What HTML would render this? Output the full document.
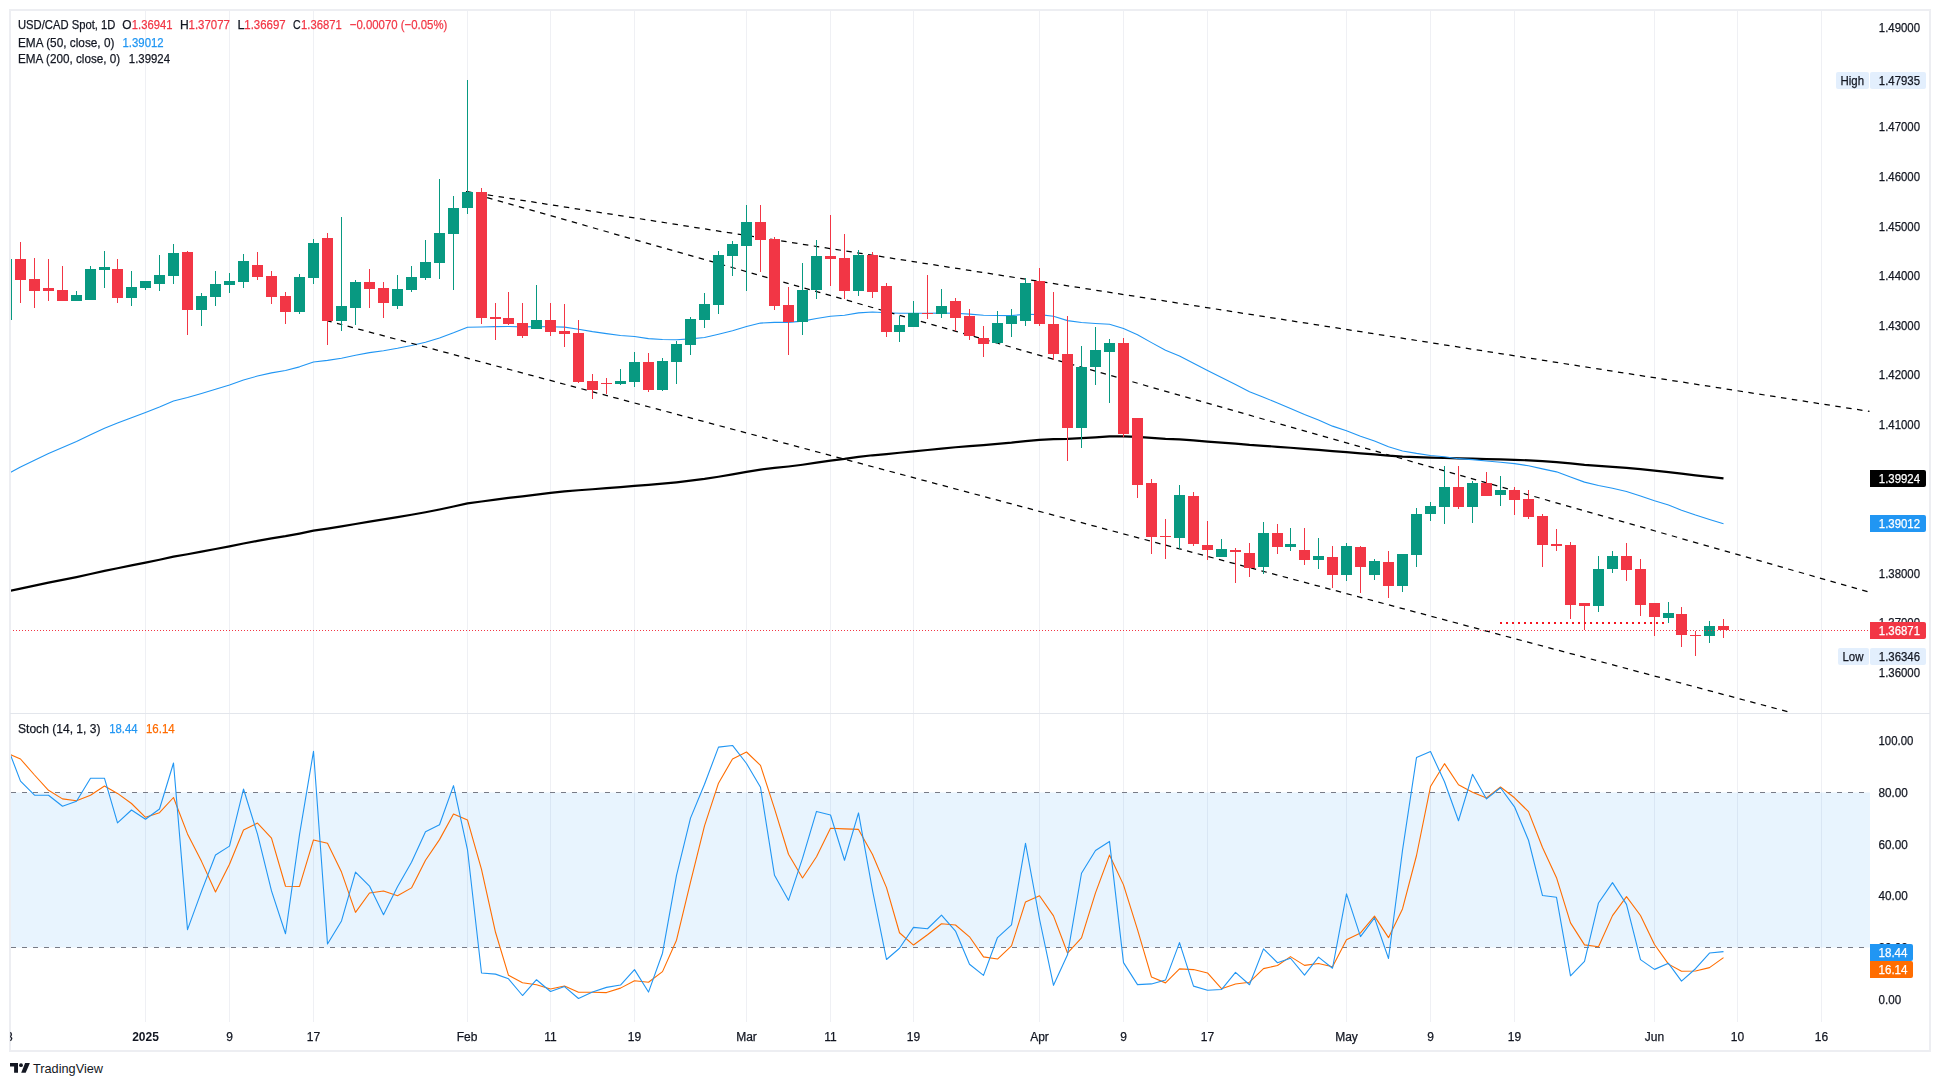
<!DOCTYPE html>
<html><head><meta charset="utf-8"><title>USD/CAD Chart</title>
<style>html,body{margin:0;padding:0;background:#fff;}svg{display:block;}</style></head>
<body><svg width="1940" height="1086" viewBox="0 0 1940 1086" shape-rendering="auto">
<rect width="1940" height="1086" fill="#fff"/>
<defs>
<clipPath id="cm"><rect x="11" y="11" width="1859" height="702"/></clipPath>
<clipPath id="cs"><rect x="11" y="714" width="1859" height="308"/></clipPath>
<clipPath id="ct"><rect x="10" y="1023" width="1860" height="27"/></clipPath>
</defs>
<rect x="10" y="10" width="1920" height="1041" fill="none" stroke="#edeef2" stroke-width="2"/>
<rect x="145" y="11" width="1" height="702" fill="#eff0f4"/>
<rect x="145" y="714" width="1" height="308" fill="#eff0f4"/>
<rect x="229" y="11" width="1" height="702" fill="#eff0f4"/>
<rect x="229" y="714" width="1" height="308" fill="#eff0f4"/>
<rect x="313" y="11" width="1" height="702" fill="#eff0f4"/>
<rect x="313" y="714" width="1" height="308" fill="#eff0f4"/>
<rect x="467" y="11" width="1" height="702" fill="#eff0f4"/>
<rect x="467" y="714" width="1" height="308" fill="#eff0f4"/>
<rect x="550" y="11" width="1" height="702" fill="#eff0f4"/>
<rect x="550" y="714" width="1" height="308" fill="#eff0f4"/>
<rect x="634" y="11" width="1" height="702" fill="#eff0f4"/>
<rect x="634" y="714" width="1" height="308" fill="#eff0f4"/>
<rect x="746" y="11" width="1" height="702" fill="#eff0f4"/>
<rect x="746" y="714" width="1" height="308" fill="#eff0f4"/>
<rect x="830" y="11" width="1" height="702" fill="#eff0f4"/>
<rect x="830" y="714" width="1" height="308" fill="#eff0f4"/>
<rect x="913" y="11" width="1" height="702" fill="#eff0f4"/>
<rect x="913" y="714" width="1" height="308" fill="#eff0f4"/>
<rect x="1039" y="11" width="1" height="702" fill="#eff0f4"/>
<rect x="1039" y="714" width="1" height="308" fill="#eff0f4"/>
<rect x="1123" y="11" width="1" height="702" fill="#eff0f4"/>
<rect x="1123" y="714" width="1" height="308" fill="#eff0f4"/>
<rect x="1207" y="11" width="1" height="702" fill="#eff0f4"/>
<rect x="1207" y="714" width="1" height="308" fill="#eff0f4"/>
<rect x="1346" y="11" width="1" height="702" fill="#eff0f4"/>
<rect x="1346" y="714" width="1" height="308" fill="#eff0f4"/>
<rect x="1430" y="11" width="1" height="702" fill="#eff0f4"/>
<rect x="1430" y="714" width="1" height="308" fill="#eff0f4"/>
<rect x="1514" y="11" width="1" height="702" fill="#eff0f4"/>
<rect x="1514" y="714" width="1" height="308" fill="#eff0f4"/>
<rect x="1654" y="11" width="1" height="702" fill="#eff0f4"/>
<rect x="1654" y="714" width="1" height="308" fill="#eff0f4"/>
<rect x="1737" y="11" width="1" height="702" fill="#eff0f4"/>
<rect x="1737" y="714" width="1" height="308" fill="#eff0f4"/>
<rect x="1821" y="11" width="1" height="702" fill="#eff0f4"/>
<rect x="1821" y="714" width="1" height="308" fill="#eff0f4"/>
<rect x="10" y="713" width="1920" height="1" fill="#e3e6ec"/>
<rect x="11" y="792.5" width="1859" height="155" fill="rgb(33,150,243)" fill-opacity="0.1"/>
<line x1="11" y1="792.5" x2="1870" y2="792.5" stroke="#787b86" stroke-width="1" stroke-dasharray="5 6"/>
<line x1="11" y1="947.5" x2="1870" y2="947.5" stroke="#787b86" stroke-width="1" stroke-dasharray="5 6"/>
<g clip-path="url(#cm)">
<polyline points="6.5,591.70 20.5,588.60 34.5,585.63 48.5,582.70 62.5,579.89 76.5,577.06 90.5,574.00 104.5,570.94 117.5,568.23 131.5,565.43 145.5,562.60 159.5,559.74 173.5,556.69 187.5,554.24 201.5,551.67 215.5,549.01 229.5,546.34 243.5,543.50 257.5,540.85 271.5,538.42 285.5,536.17 299.5,533.59 313.5,530.70 327.5,528.61 341.5,526.39 355.5,523.96 369.5,521.62 383.5,519.44 397.5,517.15 411.5,514.76 425.5,512.25 439.5,509.47 453.5,506.47 467.5,503.34 481.5,501.49 495.5,499.68 508.5,497.93 522.5,496.31 536.5,494.56 550.5,492.94 564.5,491.36 578.5,490.27 592.5,489.26 606.5,488.22 620.5,487.15 634.5,485.91 648.5,484.95 662.5,483.72 676.5,482.33 690.5,480.70 704.5,478.95 718.5,476.72 732.5,474.40 746.5,471.89 760.5,469.58 774.5,467.95 788.5,466.50 802.5,464.74 816.5,462.67 830.5,460.64 844.5,458.95 858.5,456.92 872.5,455.28 886.5,454.05 899.5,452.76 913.5,451.38 927.5,450.01 941.5,448.57 955.5,447.27 969.5,446.16 983.5,445.15 997.5,443.93 1011.5,442.66 1025.5,441.07 1039.5,439.90 1053.5,439.05 1067.5,438.94 1081.5,438.22 1095.5,437.35 1109.5,436.41 1123.5,436.38 1137.5,436.86 1151.5,437.86 1165.5,438.84 1179.5,439.40 1193.5,440.44 1207.5,441.53 1221.5,442.60 1235.5,443.69 1249.5,444.93 1263.5,445.80 1277.5,446.81 1290.5,447.77 1304.5,448.89 1318.5,449.96 1332.5,451.20 1346.5,452.14 1360.5,453.28 1374.5,454.35 1388.5,455.66 1402.5,456.64 1416.5,457.21 1430.5,457.69 1444.5,457.99 1458.5,458.47 1472.5,458.72 1486.5,459.09 1500.5,459.39 1514.5,459.79 1528.5,460.36 1542.5,461.20 1556.5,462.04 1570.5,463.46 1584.5,464.88 1598.5,465.91 1612.5,466.81 1626.5,467.84 1640.5,469.20 1654.5,470.67 1668.5,472.08 1681.5,473.70 1695.5,475.31 1709.5,476.81 1723.5,478.34" fill="none" stroke="#000" stroke-width="2.2" stroke-linejoin="round"/>
<polyline points="6.5,474.70 20.5,467.05 34.5,460.14 48.5,453.50 62.5,447.52 76.5,441.54 90.5,434.78 104.5,428.20 117.5,423.09 131.5,417.76 145.5,412.41 159.5,407.03 173.5,400.99 187.5,397.42 201.5,393.44 215.5,389.16 229.5,384.92 243.5,380.07 257.5,376.02 271.5,372.91 285.5,370.52 299.5,366.85 313.5,362.00 327.5,360.39 341.5,358.25 355.5,355.26 369.5,352.65 383.5,350.70 397.5,348.29 411.5,345.49 425.5,342.22 439.5,337.94 453.5,332.84 467.5,327.32 481.5,326.94 495.5,326.63 508.5,326.51 522.5,326.88 536.5,326.61 550.5,326.82 564.5,327.09 578.5,329.23 592.5,331.60 606.5,333.65 620.5,335.51 634.5,336.55 648.5,338.63 662.5,339.52 676.5,339.70 690.5,338.89 704.5,337.53 718.5,334.29 732.5,330.75 746.5,326.49 760.5,323.09 774.5,322.41 788.5,322.39 802.5,321.12 816.5,318.57 830.5,316.22 844.5,315.23 858.5,312.87 872.5,312.04 886.5,312.81 899.5,313.30 913.5,313.29 927.5,313.31 941.5,313.03 955.5,313.21 969.5,314.10 983.5,315.27 997.5,315.57 1011.5,315.59 1025.5,314.30 1039.5,314.67 1053.5,316.23 1067.5,320.61 1081.5,322.43 1095.5,323.51 1109.5,324.29 1123.5,328.58 1137.5,334.70 1151.5,342.62 1165.5,350.25 1179.5,355.93 1193.5,363.30 1207.5,370.61 1221.5,377.60 1235.5,384.46 1249.5,391.65 1263.5,397.19 1277.5,403.06 1290.5,408.58 1304.5,414.52 1318.5,420.06 1332.5,426.13 1346.5,430.83 1360.5,436.16 1374.5,441.05 1388.5,446.72 1402.5,450.93 1416.5,453.41 1430.5,455.47 1444.5,456.71 1458.5,458.67 1472.5,459.64 1486.5,461.05 1500.5,462.18 1514.5,463.66 1528.5,465.74 1542.5,468.84 1556.5,471.85 1570.5,477.06 1584.5,482.12 1598.5,485.52 1612.5,488.28 1626.5,491.48 1640.5,495.92 1654.5,500.67 1668.5,505.07 1681.5,510.15 1695.5,515.08 1709.5,519.43 1723.5,523.79" fill="none" stroke="#2196f3" stroke-width="1.1" stroke-linejoin="round"/>
<line x1="466" y1="191.50" x2="1869.5" y2="411.43" stroke="#000" stroke-width="1.25" stroke-dasharray="5.5 5.5" stroke-dashoffset="0"/>
<line x1="466" y1="191.50" x2="1869.5" y2="592.20" stroke="#000" stroke-width="1.25" stroke-dasharray="5.5 5.5" stroke-dashoffset="0"/>
<line x1="327.5" y1="320.80" x2="1789" y2="712.04" stroke="#000" stroke-width="1.25" stroke-dasharray="5.5 5.5" stroke-dashoffset="1.2"/>
<rect x="6" y="259" width="1" height="61" fill="#089981"/>
<rect x="1" y="259" width="11" height="61" fill="#089981"/>
<rect x="20" y="242" width="1" height="61" fill="#f23645"/>
<rect x="15" y="259" width="11" height="21" fill="#f23645"/>
<rect x="34" y="258" width="1" height="50" fill="#f23645"/>
<rect x="29" y="279" width="11" height="12" fill="#f23645"/>
<rect x="48" y="259" width="1" height="42" fill="#f23645"/>
<rect x="43" y="288" width="11" height="3" fill="#f23645"/>
<rect x="62" y="266" width="1" height="35" fill="#f23645"/>
<rect x="57" y="290" width="11" height="11" fill="#f23645"/>
<rect x="76" y="291" width="1" height="10" fill="#089981"/>
<rect x="71" y="295" width="11" height="6" fill="#089981"/>
<rect x="90" y="266" width="1" height="34" fill="#089981"/>
<rect x="85" y="269" width="11" height="31" fill="#089981"/>
<rect x="104" y="251" width="1" height="37" fill="#089981"/>
<rect x="99" y="267" width="11" height="3" fill="#089981"/>
<rect x="117" y="259" width="1" height="44" fill="#f23645"/>
<rect x="112" y="269" width="11" height="29" fill="#f23645"/>
<rect x="131" y="271" width="1" height="35" fill="#089981"/>
<rect x="126" y="287" width="11" height="11" fill="#089981"/>
<rect x="145" y="281" width="1" height="9" fill="#089981"/>
<rect x="140" y="281" width="11" height="7" fill="#089981"/>
<rect x="159" y="255" width="1" height="36" fill="#089981"/>
<rect x="154" y="275" width="11" height="9" fill="#089981"/>
<rect x="173" y="244" width="1" height="40" fill="#089981"/>
<rect x="168" y="253" width="11" height="23" fill="#089981"/>
<rect x="187" y="251" width="1" height="84" fill="#f23645"/>
<rect x="182" y="252" width="11" height="58" fill="#f23645"/>
<rect x="201" y="293" width="1" height="33" fill="#089981"/>
<rect x="196" y="296" width="11" height="14" fill="#089981"/>
<rect x="215" y="271" width="1" height="35" fill="#089981"/>
<rect x="210" y="284" width="11" height="13" fill="#089981"/>
<rect x="229" y="273" width="1" height="20" fill="#089981"/>
<rect x="224" y="281" width="11" height="4" fill="#089981"/>
<rect x="243" y="254" width="1" height="34" fill="#089981"/>
<rect x="238" y="261" width="11" height="21" fill="#089981"/>
<rect x="257" y="252" width="1" height="28" fill="#f23645"/>
<rect x="252" y="265" width="11" height="12" fill="#f23645"/>
<rect x="271" y="271" width="1" height="33" fill="#f23645"/>
<rect x="266" y="276" width="11" height="21" fill="#f23645"/>
<rect x="285" y="292" width="1" height="32" fill="#f23645"/>
<rect x="280" y="296" width="11" height="16" fill="#f23645"/>
<rect x="299" y="274" width="1" height="40" fill="#089981"/>
<rect x="294" y="277" width="11" height="35" fill="#089981"/>
<rect x="313" y="239" width="1" height="45" fill="#089981"/>
<rect x="308" y="243" width="11" height="35" fill="#089981"/>
<rect x="327" y="233" width="1" height="112" fill="#f23645"/>
<rect x="322" y="238" width="11" height="83" fill="#f23645"/>
<rect x="341" y="217" width="1" height="114" fill="#089981"/>
<rect x="336" y="306" width="11" height="15" fill="#089981"/>
<rect x="355" y="280" width="1" height="45" fill="#089981"/>
<rect x="350" y="282" width="11" height="26" fill="#089981"/>
<rect x="369" y="269" width="1" height="39" fill="#f23645"/>
<rect x="364" y="282" width="11" height="7" fill="#f23645"/>
<rect x="383" y="282" width="1" height="36" fill="#f23645"/>
<rect x="378" y="288" width="11" height="15" fill="#f23645"/>
<rect x="397" y="275" width="1" height="34" fill="#089981"/>
<rect x="392" y="289" width="11" height="17" fill="#089981"/>
<rect x="411" y="266" width="1" height="26" fill="#089981"/>
<rect x="406" y="277" width="11" height="13" fill="#089981"/>
<rect x="425" y="240" width="1" height="40" fill="#089981"/>
<rect x="420" y="262" width="11" height="16" fill="#089981"/>
<rect x="439" y="179" width="1" height="100" fill="#089981"/>
<rect x="434" y="233" width="11" height="30" fill="#089981"/>
<rect x="453" y="196" width="1" height="94" fill="#089981"/>
<rect x="448" y="208" width="11" height="26" fill="#089981"/>
<rect x="467" y="80" width="1" height="134" fill="#089981"/>
<rect x="462" y="192" width="11" height="16" fill="#089981"/>
<rect x="481" y="188" width="1" height="136" fill="#f23645"/>
<rect x="476" y="192" width="11" height="126" fill="#f23645"/>
<rect x="495" y="303" width="1" height="37" fill="#f23645"/>
<rect x="490" y="317" width="11" height="2" fill="#f23645"/>
<rect x="508" y="292" width="1" height="33" fill="#f23645"/>
<rect x="503" y="318" width="11" height="6" fill="#f23645"/>
<rect x="522" y="303" width="1" height="35" fill="#f23645"/>
<rect x="517" y="323" width="11" height="13" fill="#f23645"/>
<rect x="536" y="285" width="1" height="44" fill="#089981"/>
<rect x="531" y="320" width="11" height="9" fill="#089981"/>
<rect x="550" y="303" width="1" height="33" fill="#f23645"/>
<rect x="545" y="320" width="11" height="12" fill="#f23645"/>
<rect x="564" y="304" width="1" height="43" fill="#f23645"/>
<rect x="559" y="331" width="11" height="3" fill="#f23645"/>
<rect x="578" y="320" width="1" height="63" fill="#f23645"/>
<rect x="573" y="333" width="11" height="49" fill="#f23645"/>
<rect x="592" y="374" width="1" height="25" fill="#f23645"/>
<rect x="587" y="381" width="11" height="9" fill="#f23645"/>
<rect x="606" y="378" width="1" height="16" fill="#f23645"/>
<rect x="601" y="383" width="11" height="1" fill="#f23645"/>
<rect x="620" y="369" width="1" height="16" fill="#089981"/>
<rect x="615" y="381" width="11" height="3" fill="#089981"/>
<rect x="634" y="352" width="1" height="35" fill="#089981"/>
<rect x="629" y="362" width="11" height="20" fill="#089981"/>
<rect x="648" y="353" width="1" height="39" fill="#f23645"/>
<rect x="643" y="362" width="11" height="28" fill="#f23645"/>
<rect x="662" y="358" width="1" height="33" fill="#089981"/>
<rect x="657" y="361" width="11" height="29" fill="#089981"/>
<rect x="676" y="341" width="1" height="43" fill="#089981"/>
<rect x="671" y="344" width="11" height="18" fill="#089981"/>
<rect x="690" y="317" width="1" height="38" fill="#089981"/>
<rect x="685" y="319" width="11" height="26" fill="#089981"/>
<rect x="704" y="293" width="1" height="35" fill="#089981"/>
<rect x="699" y="304" width="11" height="16" fill="#089981"/>
<rect x="718" y="251" width="1" height="63" fill="#089981"/>
<rect x="713" y="255" width="11" height="50" fill="#089981"/>
<rect x="732" y="241" width="1" height="35" fill="#089981"/>
<rect x="727" y="244" width="11" height="12" fill="#089981"/>
<rect x="746" y="205" width="1" height="86" fill="#089981"/>
<rect x="741" y="222" width="11" height="24" fill="#089981"/>
<rect x="760" y="205" width="1" height="67" fill="#f23645"/>
<rect x="755" y="222" width="11" height="18" fill="#f23645"/>
<rect x="774" y="237" width="1" height="73" fill="#f23645"/>
<rect x="769" y="239" width="11" height="67" fill="#f23645"/>
<rect x="788" y="287" width="1" height="68" fill="#f23645"/>
<rect x="783" y="305" width="11" height="17" fill="#f23645"/>
<rect x="802" y="263" width="1" height="72" fill="#089981"/>
<rect x="797" y="290" width="11" height="32" fill="#089981"/>
<rect x="816" y="240" width="1" height="59" fill="#089981"/>
<rect x="811" y="256" width="11" height="34" fill="#089981"/>
<rect x="830" y="215" width="1" height="71" fill="#f23645"/>
<rect x="825" y="256" width="11" height="3" fill="#f23645"/>
<rect x="844" y="234" width="1" height="65" fill="#f23645"/>
<rect x="839" y="258" width="11" height="33" fill="#f23645"/>
<rect x="858" y="250" width="1" height="46" fill="#089981"/>
<rect x="853" y="255" width="11" height="36" fill="#089981"/>
<rect x="872" y="252" width="1" height="46" fill="#f23645"/>
<rect x="867" y="255" width="11" height="37" fill="#f23645"/>
<rect x="886" y="283" width="1" height="54" fill="#f23645"/>
<rect x="881" y="286" width="11" height="46" fill="#f23645"/>
<rect x="899" y="316" width="1" height="26" fill="#089981"/>
<rect x="894" y="325" width="11" height="7" fill="#089981"/>
<rect x="913" y="301" width="1" height="26" fill="#089981"/>
<rect x="908" y="313" width="11" height="14" fill="#089981"/>
<rect x="927" y="275" width="1" height="44" fill="#f23645"/>
<rect x="922" y="313" width="11" height="1" fill="#f23645"/>
<rect x="941" y="289" width="1" height="29" fill="#089981"/>
<rect x="936" y="306" width="11" height="8" fill="#089981"/>
<rect x="955" y="298" width="1" height="33" fill="#f23645"/>
<rect x="950" y="301" width="11" height="17" fill="#f23645"/>
<rect x="969" y="309" width="1" height="31" fill="#f23645"/>
<rect x="964" y="316" width="11" height="20" fill="#f23645"/>
<rect x="983" y="326" width="1" height="31" fill="#f23645"/>
<rect x="978" y="338" width="11" height="6" fill="#f23645"/>
<rect x="997" y="311" width="1" height="33" fill="#089981"/>
<rect x="992" y="323" width="11" height="20" fill="#089981"/>
<rect x="1011" y="309" width="1" height="28" fill="#089981"/>
<rect x="1006" y="316" width="11" height="8" fill="#089981"/>
<rect x="1025" y="278" width="1" height="48" fill="#089981"/>
<rect x="1020" y="283" width="11" height="38" fill="#089981"/>
<rect x="1039" y="268" width="1" height="58" fill="#f23645"/>
<rect x="1034" y="281" width="11" height="43" fill="#f23645"/>
<rect x="1053" y="292" width="1" height="68" fill="#f23645"/>
<rect x="1048" y="324" width="11" height="30" fill="#f23645"/>
<rect x="1067" y="316" width="1" height="145" fill="#f23645"/>
<rect x="1062" y="354" width="11" height="74" fill="#f23645"/>
<rect x="1081" y="346" width="1" height="102" fill="#089981"/>
<rect x="1076" y="367" width="11" height="61" fill="#089981"/>
<rect x="1095" y="327" width="1" height="58" fill="#089981"/>
<rect x="1090" y="350" width="11" height="17" fill="#089981"/>
<rect x="1109" y="339" width="1" height="64" fill="#089981"/>
<rect x="1104" y="343" width="11" height="9" fill="#089981"/>
<rect x="1123" y="338" width="1" height="99" fill="#f23645"/>
<rect x="1118" y="343" width="11" height="91" fill="#f23645"/>
<rect x="1137" y="418" width="1" height="80" fill="#f23645"/>
<rect x="1132" y="418" width="11" height="67" fill="#f23645"/>
<rect x="1151" y="479" width="1" height="75" fill="#f23645"/>
<rect x="1146" y="483" width="11" height="54" fill="#f23645"/>
<rect x="1165" y="519" width="1" height="40" fill="#f23645"/>
<rect x="1160" y="536" width="11" height="1" fill="#f23645"/>
<rect x="1179" y="485" width="1" height="64" fill="#089981"/>
<rect x="1174" y="495" width="11" height="43" fill="#089981"/>
<rect x="1193" y="492" width="1" height="54" fill="#f23645"/>
<rect x="1188" y="496" width="11" height="48" fill="#f23645"/>
<rect x="1207" y="521" width="1" height="39" fill="#f23645"/>
<rect x="1202" y="545" width="11" height="5" fill="#f23645"/>
<rect x="1221" y="539" width="1" height="18" fill="#089981"/>
<rect x="1216" y="549" width="11" height="8" fill="#089981"/>
<rect x="1235" y="548" width="1" height="35" fill="#f23645"/>
<rect x="1230" y="550" width="11" height="2" fill="#f23645"/>
<rect x="1249" y="543" width="1" height="34" fill="#f23645"/>
<rect x="1244" y="553" width="11" height="15" fill="#f23645"/>
<rect x="1263" y="522" width="1" height="52" fill="#089981"/>
<rect x="1258" y="533" width="11" height="34" fill="#089981"/>
<rect x="1277" y="524" width="1" height="30" fill="#f23645"/>
<rect x="1272" y="533" width="11" height="14" fill="#f23645"/>
<rect x="1290" y="528" width="1" height="23" fill="#089981"/>
<rect x="1285" y="544" width="11" height="3" fill="#089981"/>
<rect x="1304" y="528" width="1" height="37" fill="#f23645"/>
<rect x="1299" y="550" width="11" height="10" fill="#f23645"/>
<rect x="1318" y="538" width="1" height="31" fill="#089981"/>
<rect x="1313" y="556" width="11" height="4" fill="#089981"/>
<rect x="1332" y="546" width="1" height="42" fill="#f23645"/>
<rect x="1327" y="557" width="11" height="18" fill="#f23645"/>
<rect x="1346" y="543" width="1" height="38" fill="#089981"/>
<rect x="1341" y="546" width="11" height="29" fill="#089981"/>
<rect x="1360" y="546" width="1" height="47" fill="#f23645"/>
<rect x="1355" y="547" width="11" height="20" fill="#f23645"/>
<rect x="1374" y="559" width="1" height="21" fill="#089981"/>
<rect x="1369" y="561" width="11" height="14" fill="#089981"/>
<rect x="1388" y="551" width="1" height="47" fill="#f23645"/>
<rect x="1383" y="562" width="11" height="24" fill="#f23645"/>
<rect x="1402" y="554" width="1" height="38" fill="#089981"/>
<rect x="1397" y="554" width="11" height="32" fill="#089981"/>
<rect x="1416" y="508" width="1" height="59" fill="#089981"/>
<rect x="1411" y="514" width="11" height="41" fill="#089981"/>
<rect x="1430" y="502" width="1" height="19" fill="#089981"/>
<rect x="1425" y="506" width="11" height="8" fill="#089981"/>
<rect x="1444" y="466" width="1" height="58" fill="#089981"/>
<rect x="1439" y="487" width="11" height="20" fill="#089981"/>
<rect x="1458" y="466" width="1" height="43" fill="#f23645"/>
<rect x="1453" y="487" width="11" height="20" fill="#f23645"/>
<rect x="1472" y="481" width="1" height="42" fill="#089981"/>
<rect x="1467" y="483" width="11" height="24" fill="#089981"/>
<rect x="1486" y="472" width="1" height="24" fill="#f23645"/>
<rect x="1481" y="483" width="11" height="13" fill="#f23645"/>
<rect x="1500" y="476" width="1" height="30" fill="#089981"/>
<rect x="1495" y="490" width="11" height="5" fill="#089981"/>
<rect x="1514" y="487" width="1" height="28" fill="#f23645"/>
<rect x="1509" y="490" width="11" height="10" fill="#f23645"/>
<rect x="1528" y="490" width="1" height="29" fill="#f23645"/>
<rect x="1523" y="499" width="11" height="18" fill="#f23645"/>
<rect x="1542" y="514" width="1" height="53" fill="#f23645"/>
<rect x="1537" y="516" width="11" height="29" fill="#f23645"/>
<rect x="1556" y="529" width="1" height="22" fill="#f23645"/>
<rect x="1551" y="544" width="11" height="2" fill="#f23645"/>
<rect x="1570" y="542" width="1" height="77" fill="#f23645"/>
<rect x="1565" y="545" width="11" height="60" fill="#f23645"/>
<rect x="1584" y="603" width="1" height="27" fill="#f23645"/>
<rect x="1579" y="603" width="11" height="3" fill="#f23645"/>
<rect x="1598" y="556" width="1" height="56" fill="#089981"/>
<rect x="1593" y="569" width="11" height="37" fill="#089981"/>
<rect x="1612" y="551" width="1" height="22" fill="#089981"/>
<rect x="1607" y="556" width="11" height="13" fill="#089981"/>
<rect x="1626" y="543" width="1" height="38" fill="#f23645"/>
<rect x="1621" y="556" width="11" height="14" fill="#f23645"/>
<rect x="1640" y="559" width="1" height="57" fill="#f23645"/>
<rect x="1635" y="569" width="11" height="36" fill="#f23645"/>
<rect x="1654" y="603" width="1" height="33" fill="#f23645"/>
<rect x="1649" y="603" width="11" height="14" fill="#f23645"/>
<rect x="1668" y="602" width="1" height="21" fill="#089981"/>
<rect x="1663" y="613" width="11" height="5" fill="#089981"/>
<rect x="1681" y="607" width="1" height="40" fill="#f23645"/>
<rect x="1676" y="614" width="11" height="21" fill="#f23645"/>
<rect x="1695" y="631" width="1" height="25" fill="#f23645"/>
<rect x="1690" y="635" width="11" height="1" fill="#f23645"/>
<rect x="1709" y="621" width="1" height="22" fill="#089981"/>
<rect x="1704" y="626" width="11" height="10" fill="#089981"/>
<rect x="1723" y="619" width="1" height="19" fill="#f23645"/>
<rect x="1718" y="626" width="11" height="4" fill="#f23645"/>
<line x1="1500" y1="623" x2="1664" y2="623" stroke="#f5141f" stroke-width="2" stroke-dasharray="2 4"/>
<line x1="10" y1="630.5" x2="1868" y2="630.5" stroke="#f23645" stroke-width="1" stroke-dasharray="1 2"/>
</g>
<g clip-path="url(#cs)">
<polyline points="6.5,752.80 20.5,759.00 34.5,775.00 48.5,790.30 62.5,798.90 76.5,800.80 90.5,795.20 104.5,786.00 117.5,793.40 131.5,803.50 145.5,817.30 159.5,812.70 173.5,797.50 187.5,833.88 201.5,861.36 215.5,892.02 229.5,864.17 243.5,830.04 257.5,823.09 271.5,838.03 285.5,886.27 299.5,886.46 313.5,839.92 327.5,843.32 341.5,872.07 355.5,912.32 369.5,893.03 383.5,890.93 397.5,895.80 411.5,887.89 425.5,860.25 439.5,839.62 453.5,814.06 467.5,820.07 481.5,869.46 495.5,932.27 508.5,975.29 522.5,982.81 536.5,984.69 550.5,988.92 564.5,985.94 578.5,992.18 592.5,992.31 606.5,992.58 620.5,988.12 634.5,980.69 648.5,982.26 662.5,971.63 676.5,940.19 690.5,882.22 704.5,825.89 718.5,783.18 732.5,758.94 746.5,752.02 760.5,765.39 774.5,808.68 788.5,854.28 802.5,877.99 816.5,856.70 830.5,828.28 844.5,828.91 858.5,829.41 872.5,854.54 886.5,887.61 899.5,932.73 913.5,945.05 927.5,934.80 941.5,923.75 955.5,924.97 969.5,936.81 983.5,956.90 997.5,959.07 1011.5,945.91 1025.5,901.90 1039.5,895.71 1053.5,915.89 1067.5,953.05 1081.5,937.80 1095.5,892.88 1109.5,855.07 1123.5,884.87 1137.5,929.56 1151.5,977.06 1165.5,982.87 1179.5,968.85 1193.5,969.59 1207.5,972.99 1221.5,988.65 1235.5,984.06 1249.5,982.22 1263.5,968.66 1277.5,965.45 1290.5,956.63 1304.5,965.36 1318.5,963.49 1332.5,966.81 1346.5,939.75 1360.5,932.90 1374.5,916.12 1388.5,937.65 1402.5,908.93 1416.5,855.49 1430.5,786.54 1444.5,763.67 1458.5,784.73 1472.5,792.31 1486.5,798.01 1500.5,786.99 1514.5,797.81 1528.5,811.59 1542.5,847.52 1556.5,877.69 1570.5,922.88 1584.5,944.83 1598.5,946.71 1612.5,915.63 1626.5,896.63 1640.5,915.52 1654.5,944.45 1668.5,964.12 1681.5,971.26 1695.5,971.05 1709.5,967.60 1723.5,957.61" fill="none" stroke="#ff6d00" stroke-width="1.1" stroke-linejoin="round"/>
<polyline points="6.5,744.60 20.5,781.10 34.5,795.20 48.5,795.20 62.5,806.30 76.5,801.30 90.5,778.30 104.5,778.30 117.5,822.90 131.5,810.00 145.5,819.20 159.5,809.00 173.5,763.00 187.5,929.65 201.5,891.43 215.5,854.96 229.5,846.12 243.5,789.03 257.5,834.13 271.5,890.93 285.5,933.75 299.5,834.70 313.5,751.32 327.5,943.95 341.5,920.94 355.5,872.08 369.5,886.07 383.5,914.65 397.5,886.68 411.5,862.35 425.5,831.73 439.5,824.77 453.5,785.68 467.5,849.76 481.5,972.94 495.5,974.12 508.5,978.82 522.5,995.51 536.5,979.73 550.5,991.51 564.5,986.57 578.5,998.46 592.5,991.91 606.5,987.36 620.5,985.08 634.5,969.62 648.5,992.08 662.5,953.20 676.5,875.30 690.5,818.15 704.5,784.22 718.5,747.17 732.5,745.43 746.5,763.48 760.5,787.26 774.5,875.29 788.5,900.30 802.5,858.38 816.5,811.42 830.5,815.03 844.5,860.28 858.5,812.92 872.5,890.42 886.5,959.50 899.5,948.28 913.5,927.38 927.5,928.76 941.5,915.12 955.5,931.03 969.5,964.29 983.5,975.38 997.5,937.54 1011.5,924.80 1025.5,843.34 1039.5,918.99 1053.5,985.32 1067.5,954.84 1081.5,873.24 1095.5,850.56 1109.5,841.43 1123.5,962.63 1137.5,984.63 1151.5,983.91 1165.5,980.07 1179.5,942.58 1193.5,986.13 1207.5,990.26 1221.5,989.55 1235.5,972.35 1249.5,984.74 1263.5,948.88 1277.5,962.75 1290.5,958.26 1304.5,975.08 1318.5,957.14 1332.5,968.23 1346.5,893.88 1360.5,936.60 1374.5,917.90 1388.5,958.45 1402.5,850.43 1416.5,757.59 1430.5,751.60 1444.5,781.81 1458.5,820.77 1472.5,774.34 1486.5,798.93 1500.5,787.72 1514.5,806.80 1528.5,840.24 1542.5,895.53 1556.5,897.30 1570.5,975.83 1584.5,961.35 1598.5,902.94 1612.5,882.58 1626.5,904.36 1640.5,959.62 1654.5,969.37 1668.5,963.36 1681.5,981.05 1695.5,968.72 1709.5,953.02 1723.5,951.66" fill="none" stroke="#2196f3" stroke-width="1.1" stroke-linejoin="round"/>
</g>
<g font-family="'Liberation Sans', Arial, sans-serif" opacity="0.999">
<text x="18" y="29.4" font-size="13" fill="#131722" stroke="#131722" stroke-width="0.25" textLength="97.4" lengthAdjust="spacingAndGlyphs">USD/CAD Spot, 1D</text>
<text x="122.3" y="29.4" font-size="13" fill="#131722" stroke="#131722" stroke-width="0.25" textLength="9.3" lengthAdjust="spacingAndGlyphs">O</text>
<text x="131.8" y="29.4" font-size="13" fill="#f23645" stroke="#f23645" stroke-width="0.25" textLength="40.6" lengthAdjust="spacingAndGlyphs">1.36941</text>
<text x="179.95" y="29.4" font-size="13" fill="#131722" stroke="#131722" stroke-width="0.25" textLength="8.75" lengthAdjust="spacingAndGlyphs">H</text>
<text x="188.6" y="29.4" font-size="13" fill="#f23645" stroke="#f23645" stroke-width="0.25" textLength="41.3" lengthAdjust="spacingAndGlyphs">1.37077</text>
<text x="237.4" y="29.4" font-size="13" fill="#131722" stroke="#131722" stroke-width="0.25" textLength="7.1" lengthAdjust="spacingAndGlyphs">L</text>
<text x="244.3" y="29.4" font-size="13" fill="#f23645" stroke="#f23645" stroke-width="0.25" textLength="41.3" lengthAdjust="spacingAndGlyphs">1.36697</text>
<text x="293" y="29.4" font-size="13" fill="#131722" stroke="#131722" stroke-width="0.25" textLength="7.6" lengthAdjust="spacingAndGlyphs">C</text>
<text x="301" y="29.4" font-size="13" fill="#f23645" stroke="#f23645" stroke-width="0.25" textLength="40.7" lengthAdjust="spacingAndGlyphs">1.36871</text>
<text x="349.8" y="29.4" font-size="13" fill="#f23645" stroke="#f23645" stroke-width="0.25" textLength="97.5" lengthAdjust="spacingAndGlyphs">−0.00070 (−0.05%)</text>
<text x="18" y="46.8" font-size="13" fill="#131722" stroke="#131722" stroke-width="0.25" textLength="96.4" lengthAdjust="spacingAndGlyphs">EMA (50, close, 0)</text>
<text x="122.5" y="46.8" font-size="13" fill="#2196f3" stroke="#2196f3" stroke-width="0.25" textLength="41.1" lengthAdjust="spacingAndGlyphs">1.39012</text>
<text x="18" y="63" font-size="13" fill="#131722" stroke="#131722" stroke-width="0.25" textLength="102.2" lengthAdjust="spacingAndGlyphs">EMA (200, close, 0)</text>
<text x="128.8" y="63" font-size="13" fill="#131722" stroke="#131722" stroke-width="0.25" textLength="41.2" lengthAdjust="spacingAndGlyphs">1.39924</text>
<text x="18" y="733" font-size="13" fill="#131722" stroke="#131722" stroke-width="0.25" textLength="82.5" lengthAdjust="spacingAndGlyphs">Stoch (14, 1, 3)</text>
<text x="109.3" y="733" font-size="13" fill="#2196f3" stroke="#2196f3" stroke-width="0.25" textLength="28.3" lengthAdjust="spacingAndGlyphs">18.44</text>
<text x="145.9" y="733" font-size="13" fill="#ff6d00" stroke="#ff6d00" stroke-width="0.25" textLength="28.8" lengthAdjust="spacingAndGlyphs">16.14</text>
<text x="1878.8" y="32.0" font-size="12.5" fill="#131722" stroke="#131722" stroke-width="0.25" textLength="41.2" lengthAdjust="spacingAndGlyphs">1.49000</text>
<text x="1878.8" y="131.2" font-size="12.5" fill="#131722" stroke="#131722" stroke-width="0.25" textLength="41.2" lengthAdjust="spacingAndGlyphs">1.47000</text>
<text x="1878.8" y="180.8" font-size="12.5" fill="#131722" stroke="#131722" stroke-width="0.25" textLength="41.2" lengthAdjust="spacingAndGlyphs">1.46000</text>
<text x="1878.8" y="230.5" font-size="12.5" fill="#131722" stroke="#131722" stroke-width="0.25" textLength="41.2" lengthAdjust="spacingAndGlyphs">1.45000</text>
<text x="1878.8" y="280.1" font-size="12.5" fill="#131722" stroke="#131722" stroke-width="0.25" textLength="41.2" lengthAdjust="spacingAndGlyphs">1.44000</text>
<text x="1878.8" y="329.7" font-size="12.5" fill="#131722" stroke="#131722" stroke-width="0.25" textLength="41.2" lengthAdjust="spacingAndGlyphs">1.43000</text>
<text x="1878.8" y="379.3" font-size="12.5" fill="#131722" stroke="#131722" stroke-width="0.25" textLength="41.2" lengthAdjust="spacingAndGlyphs">1.42000</text>
<text x="1878.8" y="428.9" font-size="12.5" fill="#131722" stroke="#131722" stroke-width="0.25" textLength="41.2" lengthAdjust="spacingAndGlyphs">1.41000</text>
<text x="1878.8" y="577.8" font-size="12.5" fill="#131722" stroke="#131722" stroke-width="0.25" textLength="41.2" lengthAdjust="spacingAndGlyphs">1.38000</text>
<text x="1878.8" y="627.4" font-size="12.5" fill="#131722" stroke="#131722" stroke-width="0.25" textLength="41.2" lengthAdjust="spacingAndGlyphs">1.37000</text>
<text x="1878.8" y="677.0" font-size="12.5" fill="#131722" stroke="#131722" stroke-width="0.25" textLength="41.2" lengthAdjust="spacingAndGlyphs">1.36000</text>
<text x="1878.5" y="745.0" font-size="12.5" fill="#131722" stroke="#131722" stroke-width="0.25" textLength="34.8" lengthAdjust="spacingAndGlyphs">100.00</text>
<text x="1878.5" y="796.8" font-size="12.5" fill="#131722" stroke="#131722" stroke-width="0.25" textLength="29.4" lengthAdjust="spacingAndGlyphs">80.00</text>
<text x="1878.5" y="848.6" font-size="12.5" fill="#131722" stroke="#131722" stroke-width="0.25" textLength="29.4" lengthAdjust="spacingAndGlyphs">60.00</text>
<text x="1878.5" y="900.3" font-size="12.5" fill="#131722" stroke="#131722" stroke-width="0.25" textLength="29.4" lengthAdjust="spacingAndGlyphs">40.00</text>
<text x="1878.5" y="952.1" font-size="12.5" fill="#131722" stroke="#131722" stroke-width="0.25" textLength="29.4" lengthAdjust="spacingAndGlyphs">20.00</text>
<text x="1878.5" y="1003.9" font-size="12.5" fill="#131722" stroke="#131722" stroke-width="0.25" textLength="22.6" lengthAdjust="spacingAndGlyphs">0.00</text>
<rect x="1836" y="72" width="33" height="17" rx="2" fill="#e3effd"/>
<rect x="1870" y="72" width="56" height="17" rx="2" fill="#e3effd"/>
<text x="1840.5" y="84.8" font-size="12.5" fill="#131722" stroke="#131722" stroke-width="0.25" textLength="23.5" lengthAdjust="spacingAndGlyphs">High</text>
<text x="1878.8" y="84.8" font-size="12.5" fill="#131722" stroke="#131722" stroke-width="0.25" textLength="41.2" lengthAdjust="spacingAndGlyphs">1.47935</text>
<rect x="1838" y="648" width="31" height="17" rx="2" fill="#e3effd"/>
<rect x="1870" y="648" width="56" height="17" rx="2" fill="#e3effd"/>
<text x="1842.5" y="660.8" font-size="12.5" fill="#131722" stroke="#131722" stroke-width="0.25" textLength="21" lengthAdjust="spacingAndGlyphs">Low</text>
<text x="1878.8" y="660.8" font-size="12.5" fill="#131722" stroke="#131722" stroke-width="0.25" textLength="41.2" lengthAdjust="spacingAndGlyphs">1.36346</text>
<path d="M1870 470h54a2 2 0 0 1 2 2v13a2 2 0 0 1 -2 2h-54z" fill="#000"/>
<text x="1878.8" y="482.8" font-size="12.5" fill="#fff" stroke="#fff" stroke-width="0.25" textLength="41.2" lengthAdjust="spacingAndGlyphs">1.39924</text>
<path d="M1870 515h54a2 2 0 0 1 2 2v13a2 2 0 0 1 -2 2h-54z" fill="#2196f3"/>
<text x="1878.8" y="527.8" font-size="12.5" fill="#fff" stroke="#fff" stroke-width="0.25" textLength="41.2" lengthAdjust="spacingAndGlyphs">1.39012</text>
<path d="M1870 622h54a2 2 0 0 1 2 2v13a2 2 0 0 1 -2 2h-54z" fill="#f23645"/>
<text x="1878.8" y="634.8" font-size="12.5" fill="#fff" stroke="#fff" stroke-width="0.25" textLength="41.2" lengthAdjust="spacingAndGlyphs">1.36871</text>
<path d="M1870 944h41a2 2 0 0 1 2 2v13a2 2 0 0 1 -2 2h-41z" fill="#2196f3"/>
<text x="1878.5" y="956.8" font-size="12.5" fill="#fff" stroke="#fff" stroke-width="0.25" textLength="29" lengthAdjust="spacingAndGlyphs">18.44</text>
<path d="M1870 961h41a2 2 0 0 1 2 2v13a2 2 0 0 1 -2 2h-41z" fill="#ff6d00"/>
<text x="1878.5" y="973.8" font-size="12.5" fill="#fff" stroke="#fff" stroke-width="0.25" textLength="29" lengthAdjust="spacingAndGlyphs">16.14</text>
<g clip-path="url(#ct)">
<text x="5.9" y="1041" font-size="12" fill="#131722" stroke="#131722" stroke-width="0.25" text-anchor="middle">18</text>
</g>
<text x="145.5" y="1041" font-size="12" fill="#131722" font-weight="bold" text-anchor="middle">2025</text>
<text x="229.5" y="1041" font-size="12" fill="#131722" stroke="#131722" stroke-width="0.25" text-anchor="middle">9</text>
<text x="313.5" y="1041" font-size="12" fill="#131722" stroke="#131722" stroke-width="0.25" text-anchor="middle">17</text>
<text x="467" y="1041" font-size="12" fill="#131722" stroke="#131722" stroke-width="0.25" text-anchor="middle">Feb</text>
<text x="550.5" y="1041" font-size="12" fill="#131722" stroke="#131722" stroke-width="0.25" text-anchor="middle">11</text>
<text x="634.5" y="1041" font-size="12" fill="#131722" stroke="#131722" stroke-width="0.25" text-anchor="middle">19</text>
<text x="746.5" y="1041" font-size="12" fill="#131722" stroke="#131722" stroke-width="0.25" text-anchor="middle">Mar</text>
<text x="830.5" y="1041" font-size="12" fill="#131722" stroke="#131722" stroke-width="0.25" text-anchor="middle">11</text>
<text x="913.5" y="1041" font-size="12" fill="#131722" stroke="#131722" stroke-width="0.25" text-anchor="middle">19</text>
<text x="1039.5" y="1041" font-size="12" fill="#131722" stroke="#131722" stroke-width="0.25" text-anchor="middle">Apr</text>
<text x="1123.5" y="1041" font-size="12" fill="#131722" stroke="#131722" stroke-width="0.25" text-anchor="middle">9</text>
<text x="1207.5" y="1041" font-size="12" fill="#131722" stroke="#131722" stroke-width="0.25" text-anchor="middle">17</text>
<text x="1346.5" y="1041" font-size="12" fill="#131722" stroke="#131722" stroke-width="0.25" text-anchor="middle">May</text>
<text x="1430.5" y="1041" font-size="12" fill="#131722" stroke="#131722" stroke-width="0.25" text-anchor="middle">9</text>
<text x="1514.5" y="1041" font-size="12" fill="#131722" stroke="#131722" stroke-width="0.25" text-anchor="middle">19</text>
<text x="1654.5" y="1041" font-size="12" fill="#131722" stroke="#131722" stroke-width="0.25" text-anchor="middle">Jun</text>
<text x="1737.5" y="1041" font-size="12" fill="#131722" stroke="#131722" stroke-width="0.25" text-anchor="middle">10</text>
<text x="1821.5" y="1041" font-size="12" fill="#131722" stroke="#131722" stroke-width="0.25" text-anchor="middle">16</text>
</g>
<g fill="#131722">
<path d="M10 1063h8v9.8h-3.9v-6.2h-4.1z"/>
<circle cx="21" cy="1065.2" r="1.9"/>
<path d="M25.1 1063h4.8l-4.2 9.8h-4.5z"/>
</g>
<text x="33" y="1072.7" font-size="13" fill="#131722" font-family="'Liberation Sans', Arial, sans-serif" textLength="70" lengthAdjust="spacingAndGlyphs">TradingView</text>
</svg></body></html>
